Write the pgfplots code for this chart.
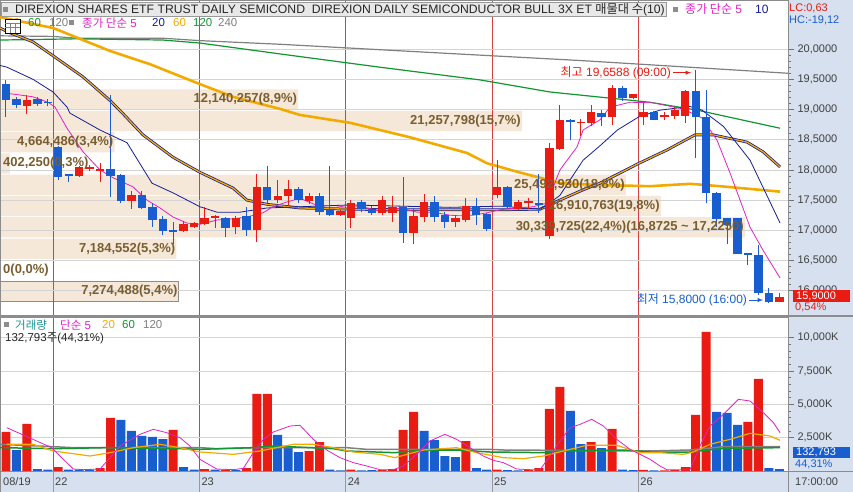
\documentclass[border=0pt]{standalone}
\usepackage{pgfplots}
\pgfplotsset{compat=1.18}
\usepackage{pgfplotstable}
\usepackage{graphicx}
\usepackage{fontspec}
\setmainfont{Liberation Sans}
\newfontfamily\kr{Noto Sans CJK KR}
\definecolor{cred}{RGB}{232,28,18}
\definecolor{cblue}{RGB}{24,94,206}
\definecolor{cmag}{RGB}{226,34,196}
\definecolor{cnavy}{RGB}{20,30,150}
\definecolor{corange}{RGB}{242,170,0}
\definecolor{cgreen}{RGB}{18,150,50}
\definecolor{cgray}{RGB}{128,128,128}
\definecolor{band}{RGB}{245,232,216}
\definecolor{bandtext}{RGB}{122,94,48}
\definecolor{strip}{RGB}{214,224,238}
\definecolor{gridc}{RGB}{212,212,212}
\definecolor{dayline}{RGB}{214,64,64}
\definecolor{cteal}{RGB}{30,150,150}
\pgfplotsset{scaled ticks=false}

\pgfplotstableread{
i O H L C
2 19.06 19.24 18.92 19.16
7 17.90 18.06 17.88 18.04
8 18.01 18.08 17.98 18.05
9 17.99 18.11 17.80 18.01
12 17.49 17.65 17.36 17.58
17 16.99 17.15 16.97 17.10
18 17.06 17.14 17.04 17.12
19 17.10 17.39 17.09 17.21
20 17.20 17.25 17.04 17.23
22 17.06 17.23 16.94 17.21
24 17.00 17.93 16.81 17.72
26 17.50 17.83 17.45 17.57
27 17.56 17.83 17.40 17.68
29 17.49 17.62 17.44 17.56
32 17.25 17.33 17.23 17.32
33 17.20 17.51 17.04 17.46
36 17.28 17.56 17.26 17.50
37 17.29 17.57 17.14 17.39
39 16.96 17.36 16.77 17.23
40 17.22 17.60 17.13 17.47
43 17.14 17.25 17.06 17.21
44 17.17 17.53 17.14 17.40
47 17.58 18.16 17.53 17.71
49 17.36 17.51 17.33 17.47
50 17.45 17.53 17.36 17.48
52 16.90 18.45 16.86 18.37
53 18.35 19.07 18.33 18.83
55 18.78 18.85 18.56 18.80
56 18.78 19.07 18.72 18.96
58 18.87 19.41 18.74 19.36
60 19.19 19.26 19.17 19.25
61 18.88 19.10 18.74 18.96
63 18.88 18.96 18.83 18.91
64 18.90 19.04 18.85 19.00
65 18.90 19.33 18.78 19.31
74 15.82 15.97 15.82 15.90
}\upc

\pgfplotstableread{
i O H L C
0 19.42 19.49 18.88 19.15
1 19.17 19.20 19.02 19.07
3 19.17 19.21 19.06 19.09
4 19.13 19.17 19.05 19.10
5 18.38 18.40 17.84 17.89
6 17.93 17.94 17.80 17.90
10 18.01 19.24 17.55 17.90
11 17.92 17.94 17.46 17.49
13 17.58 17.65 17.35 17.37
14 17.39 17.45 17.06 17.17
15 17.19 17.24 16.92 16.99
16 17.00 17.13 16.77 16.98
21 17.21 17.22 16.89 17.03
23 17.24 17.39 16.91 17.00
25 17.72 18.06 17.45 17.50
28 17.69 17.72 17.45 17.50
30 17.56 17.62 17.26 17.31
31 17.34 18.06 17.23 17.25
34 17.47 17.50 17.30 17.35
35 17.35 17.40 17.26 17.28
38 17.39 17.89 16.79 16.96
41 17.47 17.57 17.14 17.22
42 17.25 17.31 17.03 17.14
45 17.40 17.53 17.09 17.25
46 17.27 17.28 16.99 17.02
48 17.72 17.73 17.36 17.39
51 17.46 17.93 17.28 17.42
54 18.83 18.84 18.49 18.79
57 18.95 18.99 18.73 18.87
59 19.36 19.39 19.14 19.19
62 18.96 18.97 18.82 18.83
66 19.30 19.6588 18.20 18.87
67 18.88 19.33 17.45 17.61
68 17.62 17.63 17.06 17.19
69 17.20 17.21 16.77 17.08
70 17.20 17.21 16.60 16.61
71 16.62 16.63 16.43 16.59
72 16.59 16.76 15.93 15.96
73 15.96 16.04 15.80 15.82
}\dnc

\pgfplotstableread{
i v
0 2925
2 3525
5 300
9 225
10 3975
16 3075
19 150
21 110
23 225
24 5775
25 5790
29 1500
30 2175
33 100
36 70
37 150
38 3075
39 4425
44 2250
47 110
50 75
51 225
52 4650
53 6300
56 2175
58 3150
61 80
63 50
64 60
65 300
66 4200
67 10425
71 3675
72 6900
}\volr

\pgfplotstableread{
i v
1 1575
3 150
4 100
6 100
7 100
8 100
11 3825
12 3000
13 2625
14 2550
15 2400
17 300
18 100
20 100
22 75
26 2700
27 1800
28 1425
31 100
32 50
34 50
35 60
40 3000
41 2325
42 1125
43 1050
45 225
46 100
48 75
49 40
54 4500
55 2025
57 1725
59 100
60 75
62 40
68 4425
69 4350
70 3450
73 225
74 133
}\volb

\begin{document}
\begin{tikzpicture}[font=\fontsize{11}{13}\selectfont]
\useasboundingbox (0,0) rectangle (853pt,492pt);
\fill[white] (0,0) rectangle (853pt,492pt);
\fill[strip] (788pt,0) rectangle (853pt,492pt);
\fill[strip] (0,0) rectangle (853pt,21pt);

% ---------- volume-by-price bands ----------
\begin{axis}[at={(0pt,177pt)}, anchor=south west, scale only axis,
  width=788pt, height=315pt, xmin=0, xmax=32.0913, ymin=15.598, ymax=20.813, hide axis]
\addplot[xbar, bar width=0.335, bar shift=0pt, fill=band, draw=none] table[x=v, y=p] {
v p
12.140257 19.16375
21.257798 18.81125
4.664486 18.45875
0.40225 18.10625
25.49293 17.75375
26.910763 17.40125
30.339725 17.04875
7.184552 16.69625
};
\addplot[xbar, bar width=0.335, bar shift=0pt, fill=band, draw=black!45, line width=0.8pt] table[x=v, y=p] {
v p
7.274488 15.99125
};
\coordinate (b10) at (axis cs:12.140257,19.16375);
\coordinate (b9) at (axis cs:21.257798,18.81125);
\coordinate (b8) at (axis cs:4.664486,18.45875);
\coordinate (b7) at (axis cs:0,18.10625);
\coordinate (b6) at (axis cs:25.49293,17.75375);
\coordinate (b5) at (axis cs:26.910763,17.40125);
\coordinate (b4) at (axis cs:30.339725,17.04875);
\coordinate (b3) at (axis cs:7.184552,16.69625);
\coordinate (b2) at (axis cs:0,16.34375);
\coordinate (b1) at (axis cs:7.274488,15.99125);
\end{axis}

% ---------- price panel ----------
\begin{axis}[at={(0pt,177pt)}, anchor=south west, scale only axis,
  width=788pt, height=315pt,
  xmin=-0.574, xmax=74.83, ymin=15.598, ymax=20.813,
  xtick={4.5,18.5,32.5,46.5,60.5}, xticklabels={}, xmajorgrids,
  major x grid style={dayline, line width=0.7pt}, x tick style={draw=none},
  ytick={16,16.5,17,17.5,18,18.5,19,19.5,20},
  yticklabels={{16,0000},{16,5000},{17,0000},{17,5000},{18,0000},{18,5000},{19,0000},{19,5000},{20,0000}},
  ymajorgrids, major y grid style={gridc, line width=0.7pt},
  minor y tick num=4, ytick pos=right, yticklabel pos=right, tick align=outside,
  major tick length=6pt, minor tick length=3pt,
  y tick style={black!55, line width=0.6pt},
  yticklabel style={font=\fontsize{11}{12}\selectfont, text=black!75},
  axis line style={black!45, line width=0.8pt}]
% 240
\addplot[cgray, line width=1.2pt] coordinates {(-0.574,20.22) (4.5,20.21) (6.79,20.18) (15.02,20.18) (18.56,20.14) (26.22,20.08) (40,19.95) (55.02,19.81) (74.83,19.60)};
% 120
\addplot[cgreen, line width=1.2pt] coordinates {(-0.574,20.15) (6.79,20.17) (15.02,20.15) (18.56,20.10) (26.22,19.92) (35.79,19.70) (45.36,19.49) (52.06,19.29) (61.63,19.12) (66.12,18.99) (74.07,18.69)};
% 60
\addplot[corange, line width=2.6pt] coordinates {(-0.574,20.53) (1.05,20.47) (4.50,20.35) (6.79,20.19) (9.95,19.97) (13.78,19.75) (18.56,19.42) (21.72,19.21) (26.22,19.01) (28.13,18.91) (32.92,18.78) (38.66,18.54) (44.11,18.28) (46.03,18.11) (48.90,17.97) (51.10,17.87) (53.01,17.78) (56.84,17.75) (61.63,17.73) (65.45,17.77) (68.33,17.73) (74.07,17.64)};
% 20 (double)
\addplot[cnavy, line width=2.8pt] coordinates {(-0.574,20.35) (0.10,20.29) (2.58,20.12) (4.50,19.89) (7.37,19.54) (9.95,19.15) (11.20,18.93) (13.11,18.58) (15.98,18.21) (18.56,17.96) (21.72,17.70) (23.06,17.50) (24.98,17.43) (28.13,17.37) (32.92,17.35) (37.70,17.34) (42.49,17.34) (47.27,17.34) (51.10,17.35) (52.34,17.45) (55.22,17.67) (56.84,17.78) (60.57,18.11) (63.25,18.33) (65.93,18.58) (67.66,18.58) (70.91,18.46) (72.44,18.30) (74.07,18.05)};
\addplot[corange, line width=1.3pt] coordinates {(-0.574,20.35) (0.10,20.29) (2.58,20.12) (4.50,19.89) (7.37,19.54) (9.95,19.15) (11.20,18.93) (13.11,18.58) (15.98,18.21) (18.56,17.96) (21.72,17.70) (23.06,17.50) (24.98,17.43) (28.13,17.37) (32.92,17.35) (37.70,17.34) (42.49,17.34) (47.27,17.34) (51.10,17.35) (52.34,17.45) (55.22,17.67) (56.84,17.78) (60.57,18.11) (63.25,18.33) (65.93,18.58) (67.66,18.58) (70.91,18.46) (72.44,18.30) (74.07,18.05)};
% 10
\addplot[cnavy, line width=0.8pt] coordinates {(-0.574,19.73) (0.10,19.70) (2.58,19.50) (4.50,19.29) (5.84,19.04) (6.12,18.94) (9.00,18.66) (11.58,18.45) (13.97,17.78) (15.98,17.62) (18.56,17.39) (20.19,17.30) (22.39,17.30) (24.98,17.37) (28.13,17.39) (32.92,17.42) (37.7,17.40) (42.49,17.38) (47.27,17.40) (51.1,17.35) (51.77,17.42) (53.01,17.58) (55.22,18.16) (56.84,18.40) (58.5,18.66) (60.57,18.88) (62.6,18.99) (65.45,19.05) (66.6,18.99) (68.65,18.72) (71.2,18.16) (74.07,17.12)};
% 5
\addplot[cmag, line width=0.8pt] coordinates {(0,19.27) (1.34,19.24) (2.58,19.21) (4.02,19.12) (4.69,19.04) (5.84,18.69) (7.37,18.30) (9.00,18.00) (10.24,17.87) (12.15,17.72) (13.49,17.50) (14.74,17.37) (15.98,17.22) (17.32,17.12) (18.56,17.10) (20.19,17.17) (21.72,17.19) (23.06,17.22) (24.59,17.29) (25.55,17.39) (26.89,17.47) (28.13,17.53) (30.05,17.39) (31.29,17.37) (32.92,17.42) (34.55,17.37) (36.08,17.30) (37.70,17.37) (39.33,17.30) (40.86,17.30) (42.49,17.25) (43.44,17.24) (44.69,17.25) (46.03,17.29) (47.27,17.34) (48.90,17.37) (50.43,17.39) (51.77,17.45) (53.01,18.00) (54.64,18.38) (55.22,18.66) (56.84,18.83) (57.80,19.04) (59.71,19.12) (61.91,19.11) (64.78,19.01) (66.60,18.86) (68.04,18.49) (69.28,17.95) (71.20,17.05) (72.44,16.67) (74.07,16.21)};
% wicks
\addplot[draw=none, mark=none, error bars/.cd, y dir=plus, y explicit, error mark=none,
  error bar style={draw=cred, line width=1pt}]
  table[x=i, y=L, y error expr=\thisrow{H}-\thisrow{L}] {\upc};
\addplot[draw=none, mark=none, error bars/.cd, y dir=plus, y explicit, error mark=none,
  error bar style={draw=cblue, line width=1pt}]
  table[x=i, y=L, y error expr=\thisrow{H}-\thisrow{L}] {\dnc};
% bodies
\addplot[draw=none, mark=none, error bars/.cd, y dir=plus, y explicit, error mark=none,
  error bar style={draw=cred, line width=8.4pt}]
  table[x=i, y=O, y error expr=\thisrow{C}-\thisrow{O}] {\upc};
\addplot[draw=none, mark=none, error bars/.cd, y dir=plus, y explicit, error mark=none,
  error bar style={draw=cblue, line width=8.4pt}]
  table[x=i, y=C, y error expr=\thisrow{O}-\thisrow{C}] {\dnc};
\coordinate (hi) at (axis cs:65.55,19.61);
\coordinate (lo) at (axis cs:72.45,15.846);
\end{axis}

% ---------- volume panel ----------
\begin{axis}[at={(0pt,21pt)}, anchor=south west, scale only axis,
  width=788pt, height=154pt,
  xmin=-0.574, xmax=74.83, ymin=0, ymax=11550,
  xtick={4.5,18.5,32.5,46.5,60.5}, xticklabels={}, xmajorgrids,
  major x grid style={dayline, line width=0.7pt}, x tick style={draw=none},
  ytick={2500,5000,7500,10000},
  yticklabels={{2,500K},{5,000K},{7,500K},{10,000K}},
  ymajorgrids, major y grid style={gridc, line width=0.7pt},
  minor y tick num=4, ytick pos=right, yticklabel pos=right, tick align=outside,
  major tick length=6pt, minor tick length=3pt,
  y tick style={black!55, line width=0.6pt},
  yticklabel style={font=\fontsize{11}{12}\selectfont, text=black!75},
  axis line style={black!45, line width=0.8pt}]
\addplot[ybar, bar width=0.86, bar shift=0pt, fill=cred, draw=none] table[x=i, y=v] {\volr};
\addplot[ybar, bar width=0.86, bar shift=0pt, fill=cblue, draw=none] table[x=i, y=v] {\volb};
% 120
\addplot[cgray, line width=1.5pt] coordinates {(-0.574,2000) (4.53,1825) (6.44,1750) (18.56,1750) (20.16,1675) (23.67,1750) (32.6,1750) (34.5,1625) (37.7,1625) (46.3,1625) (47.59,1575) (61.63,1500) (65.45,1575) (68.65,1825) (74.07,1825)};
% 60
\addplot[cgreen, line width=1.5pt] coordinates {(-0.574,1750) (4.53,1675) (9.6,1750) (16.65,1675) (18.56,1625) (23.67,1750) (25.58,1875) (31.3,1675) (32.6,1500) (37.2,1375) (39.93,1575) (43.12,1575) (46.3,1425) (51.42,1375) (53.33,1500) (59.1,1575) (61.63,1425) (65.45,1425) (68.65,1700) (74.07,1750)};
% 20
\addplot[corange, line width=1.2pt] coordinates {(0.07,2000) (2.6,2000) (4.53,1500) (8.04,1125) (9.95,1375) (12.2,1750) (14.74,2000) (16.65,1750) (18.56,1425) (21.75,1250) (24.3,1500) (27.5,2000) (29.4,2000) (31.3,1750) (33.24,1425) (35.79,1250) (37.2,1000) (39.93,1575) (43.12,1750) (45.03,1375) (47.59,1000) (49.5,925) (51.42,1125) (53.33,1500) (55.57,1925) (58.44,1925) (60.67,1375) (62.58,1375) (64.82,1250) (65.77,1425) (67.37,2000) (69.29,2375) (71.2,2825) (73.11,2625) (74.07,2300)};
% 5
\addplot[cmag, line width=0.8pt] coordinates {(0.07,3250) (4.37,1750) (5.49,875) (6.44,150) (7.4,100) (9.0,150) (9.95,1000) (10.91,1875) (12.82,2750) (14.1,3125) (15.37,2875) (16.65,2500) (17.6,1875) (18.56,875) (20.16,150) (21.75,100) (22.71,200) (23.67,1375) (24.63,2375) (25.58,2925) (27.18,3375) (28.13,3425) (29.41,2375) (30.69,1575) (31.96,1000) (33.24,625) (34.51,375) (35.79,100) (37.07,100) (38.02,375) (39.3,1250) (40.57,2250) (42.0,2750) (43.12,2375) (44.4,1750) (45.67,1125) (46.63,800) (47.59,625) (48.87,150) (50.14,100) (51.1,100) (52.06,1125) (53.01,2250) (53.97,3250) (54.93,3500) (56.04,3875) (57.16,3375) (58.44,2375) (59.71,1625) (60.67,1250) (61.63,875) (62.58,375) (63.22,100) (64.82,100) (65.45,100) (66.41,1875) (67.37,3375) (68.65,4250) (70.08,5375) (71.2,5250) (72.47,4375) (73.43,3625) (74.07,2875)};
\coordinate (d0) at (axis cs:-0.574,0);
\coordinate (d1) at (axis cs:4.5,0);
\coordinate (d2) at (axis cs:18.5,0);
\coordinate (d3) at (axis cs:32.5,0);
\coordinate (d4) at (axis cs:46.5,0);
\coordinate (d5) at (axis cs:60.5,0);
\end{axis}

% ---------- frame / strips ----------
\draw[black!45, line width=1.2pt] (0,176pt) -- (853pt,176pt);
\draw[black!45, line width=0.8pt] (0,21pt) -- (853pt,21pt);
\draw[black!45, line width=0.8pt] (788pt,0) -- (788pt,21pt);
\draw[black!45, line width=0.8pt] (0.4pt,0) -- (0.4pt,21pt);
\foreach \d in {d1,d2,d3,d4,d5} {\draw[black!40, line width=0.8pt] (\d) -- ++(0,-21pt);}
\node[anchor=west, inner sep=0pt, text=black!75] at ([xshift=3pt,yshift=-10.5pt]d0) {08/19};
\node[anchor=west, inner sep=0pt, text=black!75] at ([xshift=2pt,yshift=-10.5pt]d1) {22};
\node[anchor=west, inner sep=0pt, text=black!75] at ([xshift=2pt,yshift=-10.5pt]d2) {23};
\node[anchor=west, inner sep=0pt, text=black!75] at ([xshift=2pt,yshift=-10.5pt]d3) {24};
\node[anchor=west, inner sep=0pt, text=black!75] at ([xshift=2pt,yshift=-10.5pt]d4) {25};
\node[anchor=west, inner sep=0pt, text=black!75] at ([xshift=2pt,yshift=-10.5pt]d5) {26};
\node[anchor=west, inner sep=0pt, text=black!75] at (795pt,10.5pt) {17:00:00};

% ---------- band labels ----------
\begin{scope}[every node/.style={inner sep=1pt, text=bandtext, font=\fontsize{13}{14}\selectfont\bfseries}]
\node[anchor=east] at (b10) {12,140,257(8,9\%)};
\node[anchor=east] at (b9) {21,257,798(15,7\%)};
\node[anchor=east] at (b8) {4,664,486(3,4\%)};
\node[anchor=west, xshift=2pt] at (b7) {402,250(0,3\%)};
\node[anchor=east] at (b6) {25,492,930(18,8\%)};
\node[anchor=east] at (b5) {26,910,763(19,8\%)};
\node[anchor=east] at (b4) {30,339,725(22,4\%)(16,8725 \textasciitilde{} 17,2250)};
\node[anchor=east] at (b3) {7,184,552(5,3\%)};
\node[anchor=west, xshift=2pt] at (b2) {0(0,0\%)};
\node[anchor=east] at (b1) {7,274,488(5,4\%)};
\end{scope}

% ---------- high / low annotations ----------
\draw[cred, line width=0.9pt, -latex] ([xshift=-18pt]hi) -- (hi);
\node[anchor=east, text=cred, inner sep=1pt, font=\fontsize{12}{13}\selectfont] at ([xshift=-19pt]hi) {{\kr 최고} 19,6588 (09:00)};
\draw[cblue, line width=0.9pt, -latex] ([xshift=-14pt]lo) -- (lo);
\node[anchor=east, text=cblue, inner sep=1pt, font=\fontsize{12}{13}\selectfont] at ([xshift=-15pt]lo) {{\kr 최저} 15,8000 (16:00)};

% ---------- right strip values ----------
\fill[cred] (793pt,190pt) rectangle (850pt,202pt);
\node[anchor=west, inner sep=0pt, text=white, font=\fontsize{11}{12}\selectfont] at (796pt,196pt) {15,9000};
\node[anchor=west, inner sep=0pt, text=cred, font=\fontsize{11}{12}\selectfont] at (795pt,184.5pt) {0,54\%};
\fill[cblue] (793pt,33.7pt) rectangle (850pt,45.3pt);
\node[anchor=west, inner sep=0pt, text=white, font=\fontsize{11}{12}\selectfont] at (796pt,39.5pt) {132,793};
\node[anchor=west, inner sep=0pt, text=cblue, font=\fontsize{11}{12}\selectfont] at (795pt,28pt) {44,31\%};
\node[anchor=west, inner sep=0pt, text=cred, font=\fontsize{11}{12}\selectfont] at (789pt,484pt) {LC:0,63};
\node[anchor=west, inner sep=0pt, text=cblue, font=\fontsize{11}{12}\selectfont] at (789pt,472pt) {HC:-19,12};

% ---------- header ----------
\fill[black!9] (1pt,475.5pt) rectangle (666pt,489.5pt);
\draw[black!40, line width=0.6pt] (1pt,475.5pt) rectangle (666pt,489.5pt);
\fill[black!45] (3pt,480pt) rectangle (8pt,485pt);
\node[anchor=west, inner sep=0pt, text=black!85, font=\fontsize{12.2}{14}\selectfont] at (15pt,482.5pt)
  {DIREXION SHARES ETF TRUST DAILY SEMICOND\ \ DIREXION DAILY SEMICONDUCTOR BULL 3X ET {\kr 매물대 수}(10)};
\fill[black!45] (673pt,480pt) rectangle (678pt,485pt);
\node[anchor=west, inner sep=0pt, text=cmag, font=\fontsize{12}{13}\selectfont] at (685pt,482.5pt) {{\kr 종가 단순} 5};
\node[anchor=west, inner sep=0pt, text=cnavy, font=\fontsize{12}{13}\selectfont] at (755pt,482.5pt) {10};

\begin{scope}[every node/.style={anchor=west, inner sep=0pt, font=\fontsize{11.5}{13}\selectfont}]
\node[text=corange] at (7pt,469pt) {20};
\node[text=cgreen] at (28pt,469pt) {60};
\node[text=cgray] at (49pt,469pt) {120};
\node[text=cmag] at (82pt,469pt) {{\kr 종가 단순} 5};
\node[text=cnavy] at (152pt,469pt) {20};
\node[text=corange] at (173pt,469pt) {60};
\node[text=cgreen] at (193pt,469pt) {120};
\node[text=cgray] at (218pt,469pt) {240};
\end{scope}
\fill[black!45] (69pt,466.5pt) rectangle (74pt,471.5pt);
\draw[black, fill=white, line width=0.8pt] (5pt,458.5pt) rectangle (20pt,473pt);
\draw[black!50, line width=0.5pt] (5pt,469pt) -- (20pt,469pt) (5pt,464.5pt) -- (20pt,464.5pt) (10pt,458.5pt) -- (10pt,469pt) (15pt,458.5pt) -- (15pt,469pt);

% volume header
\fill[black!45] (4pt,164.5pt) rectangle (9pt,169.5pt);
\begin{scope}[every node/.style={anchor=west, inner sep=0pt, font=\fontsize{11.5}{13}\selectfont}]
\node[text=cteal] at (15pt,167pt) {\kr 거래량};
\node[text=cmag] at (60pt,167pt) {{\kr 단순} 5};
\node[text=corange] at (102pt,167pt) {20};
\node[text=cgreen] at (122pt,167pt) {60};
\node[text=cgray] at (143pt,167pt) {120};
\node[text=black!85] at (5pt,154pt) {132,793{\kr 주}(44,31\%)};
\end{scope}
\end{tikzpicture}
\end{document}
